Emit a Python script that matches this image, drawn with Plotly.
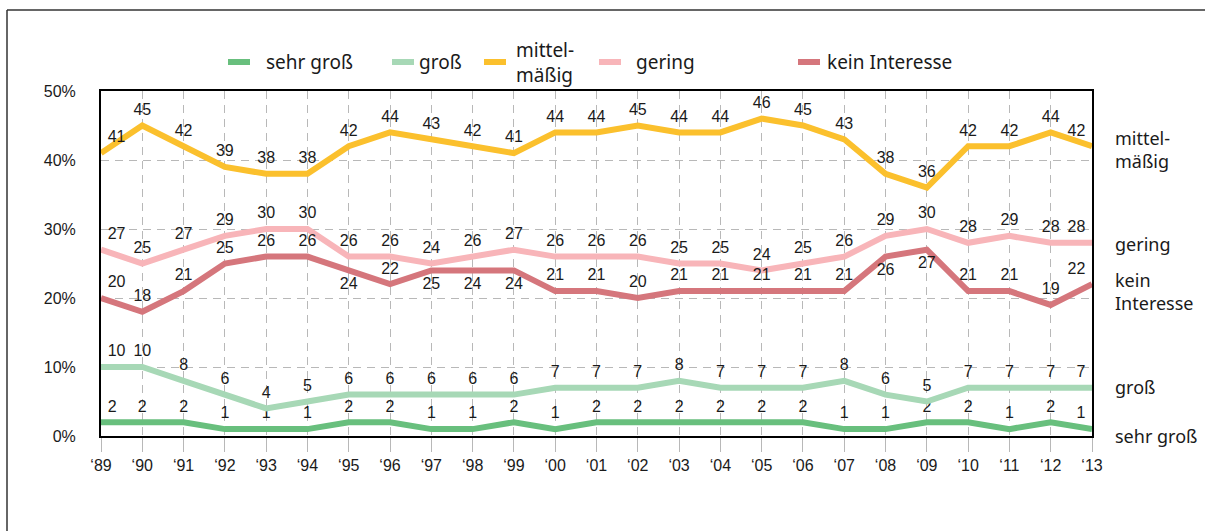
import plotly.graph_objects as go

years = ["\u201889", "\u201890", "\u201891", "\u201892", "\u201893", "\u201894", "\u201895", "\u201896",
         "\u201897", "\u201898", "\u201899", "\u201800", "\u201801", "\u201802", "\u201803", "\u201804",
         "\u201805", "\u201806", "\u201807", "\u201808", "\u201809", "\u201810", "\u201811", "\u201812", "\u201813"]

mittel = [41, 45, 42, 39, 38, 38, 42, 44, 43, 42, 41, 44, 44, 45, 44, 44, 46, 45, 43, 38, 36, 42, 42, 44, 42]
gering = [27, 25, 27, 29, 30, 30, 26, 26, 25, 26, 27, 26, 26, 26, 25, 25, 24, 25, 26, 29, 30, 28, 29, 28, 28]
kein = [20, 18, 21, 25, 26, 26, 24, 22, 24, 24, 24, 21, 21, 20, 21, 21, 21, 21, 21, 26, 27, 21, 21, 19, 22]
gross = [10, 10, 8, 6, 4, 5, 6, 6, 6, 6, 6, 7, 7, 7, 8, 7, 7, 7, 8, 6, 5, 7, 7, 7, 7]
sehr_gross = [2, 2, 2, 1, 1, 1, 2, 2, 1, 1, 2, 1, 2, 2, 2, 2, 2, 2, 1, 1, 2, 2, 1, 2, 1]

# printed labels (as in the source, which differ from the line in '97)
gering_labels = [27, 25, 27, 29, 30, 30, 26, 26, 24, 26, 27, 26, 26, 26, 25, 25, 24, 25, 26, 29, 30, 28, 29, 28, 28]
kein_labels = [20, 18, 21, 25, 26, 26, 24, 22, 25, 24, 24, 21, 21, 20, 21, 21, 21, 21, 21, 26, 27, 21, 21, 19, 22]

series_names = ["sehr groß", "groß", "mittel-<br>mäßig", "gering", "kein Interesse"]
right_labels = ["sehr groß", "groß", "mittel-<br>mäßig", "gering", "kein<br>Interesse"]
colors = ["#68BF7D", "#A7D8B6", "#FBC02D", "#F8B5B9", "#D5767C"]

x = list(range(len(years)))
n = len(years)

W, H = 1205, 531
L, R, T, B = 101, 1092, 91, 436


def px(xp):
    return (xp - L) / (R - L)


def py(yp):
    return (B - yp) / (B - T)


def tp(below=()):
    out = []
    for i in range(n):
        h = "center"
        if i == 0:
            h = "right"
        elif i == n - 1:
            h = "left"
        v = "bottom" if i in below else "top"
        out.append(f"{v} {h}")
    return out


data = [
    (sehr_gross, [str(v) for v in sehr_gross], colors[0], tp()),
    (gross, [str(v) for v in gross], colors[1], tp()),
    (mittel, [str(v) for v in mittel], colors[2], tp()),
    (gering, [str(v) for v in gering_labels], colors[3], tp()),
    (kein, [str(v) for v in kein_labels], colors[4], tp(below=(6, 8, 9, 10, 19, 20))),
]

fig = go.Figure()
for name, (vals, txt, col, pos) in zip(series_names, data):
    fig.add_trace(go.Scatter(
        x=x, y=vals, mode="lines+markers+text", name=name,
        line=dict(color=col, width=6),
        marker=dict(size=9, opacity=0, color=col),
        text=txt, textposition=pos,
        textfont=dict(family="Arial", size=16, color="#1a1a1a"),
        cliponaxis=False, showlegend=False, hoverinfo="skip",
    ))

shapes = []
annotations = []

# outer frame
shapes.append(dict(type="line", xref="paper", yref="paper", x0=px(7), x1=px(1205), y0=py(10), y1=py(10),
                   line=dict(color="#333", width=1.5)))
shapes.append(dict(type="line", xref="paper", yref="paper", x0=px(7), x1=px(7), y0=py(10), y1=py(531),
                   line=dict(color="#333", width=1.5)))

# manual legend
leg_sym = [228, 392, 484, 599, 798]
leg_txt = [264, 417, 514, 634, 825]
leg_y = 62
for i, name in enumerate(series_names):
    shapes.append(dict(type="line", xref="paper", yref="paper",
                       x0=px(leg_sym[i]), x1=px(leg_sym[i] + 22), y0=py(leg_y), y1=py(leg_y),
                       line=dict(color=colors[i], width=6)))
    annotations.append(dict(xref="paper", yref="paper", x=px(leg_txt[i]), y=py(leg_y + (1 if i == 2 else 0)),
                            text=name, showarrow=False, xanchor="left", yanchor="middle", align="left",
                            font=dict(family="Noto Sans", size=19, color="#1a1a1a")))

# right-side series labels
rlab_pos = [436, 387, 149, 244, 291]
for i, lab in enumerate(right_labels):
    annotations.append(dict(xref="paper", yref="paper", x=px(1113), y=py(rlab_pos[i]),
                            text=lab, showarrow=False, xanchor="left", yanchor="middle", align="left",
                            font=dict(family="Noto Sans", size=18, color="#1a1a1a")))

fig.update_layout(
    width=W, height=H,
    margin=dict(l=L, r=W - R, t=T, b=H - B),
    paper_bgcolor="white", plot_bgcolor="white",
    shapes=shapes, annotations=annotations,
    showlegend=False,
    xaxis=dict(
        range=[0, n - 1], tickmode="array", tickvals=x, ticktext=years,
        showgrid=True, gridcolor="#B8B8B8", griddash="8px,6px", gridwidth=1,
        ticks="outside", ticklen=14, tickcolor="#B8B8B8", tickwidth=1,
        showline=True, linecolor="black", linewidth=2, mirror=True,
        tickfont=dict(family="Arial", size=16, color="#1a1a1a"),
        zeroline=False, fixedrange=True,
    ),
    yaxis=dict(
        range=[0, 50], tickmode="array", tickvals=[0, 10, 20, 30, 40, 50],
        ticktext=["0%", "10%", "20%", "30%", "40%", "50%"],
        showgrid=True, gridcolor="#B8B8B8", griddash="8px,6px", gridwidth=1,
        ticks="", ticklabelstandoff=20,
        showline=True, linecolor="black", linewidth=2, mirror=True,
        tickfont=dict(family="Arial", size=16, color="#1a1a1a"),
        zeroline=False, fixedrange=True,
    ),
)

fig.write_html("out.html", config={"displayModeBar": False},
               post_script="document.body.style.margin='0';document.body.style.overflow='hidden';")
